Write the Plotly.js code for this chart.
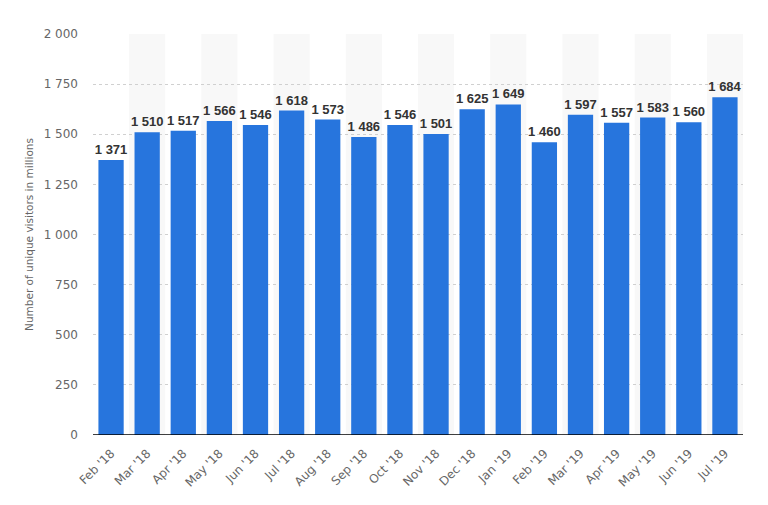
<!DOCTYPE html>
<html><head><meta charset="utf-8">
<script src="https://cdn.plot.ly/plotly-3.0.1.min.js"></script>
<style>html,body{margin:0;padding:0;background:#fff}#c{width:768px;height:505px}</style>
</head><body><div id="c"></div>
<script>
const months = ["Feb '18","Mar '18","Apr '18","May '18","Jun '18","Jul '18","Aug '18","Sep '18","Oct '18","Nov '18","Dec '18","Jan '19","Feb '19","Mar '19","Apr '19","May '19","Jun '19","Jul '19"];
const visitors = [1371,1510,1517,1566,1546,1618,1573,1486,1546,1501,1625,1649,1460,1597,1557,1583,1560,1684];
const yTicks = [0,250,500,750,1000,1250,1500,1750,2000];

const shapes = [];
months.forEach((m,i)=>{
  if(i%2===1){
    shapes.push({type:'rect',xref:'x',yref:'y',x0:i-0.5,x1:i+0.5,y0:0,y1:2000,fillcolor:'#f8f8f8',line:{width:0},layer:'below'});
  }
});
shapes.push({type:'line',xref:'paper',yref:'y',x0:0,x1:1,y0:0,y1:0,line:{color:'#000',width:1.5},layer:'above'});

const trace = {
  type:'bar', x: months.map((_,i)=>i), y: visitors,
  marker:{color:'#2775dd'},
  texttemplate:'<b>%{y:,d}</b>', textposition:'outside', cliponaxis:false, constraintext:'none',
  textfont:{family:'Liberation Sans, Arial, sans-serif', size:13, color:'#333'},
  hoverinfo:'skip'
};
const layout = {
  width:768, height:505,
  margin:{l:93,r:25,t:34,b:70},
  separators:', ',
  paper_bgcolor:'#fff', plot_bgcolor:'rgba(0,0,0,0)',
  bargap:0.3,
  showlegend:false,
  font:{family:'DejaVu Sans, sans-serif', color:'#666', size:11},
  xaxis:{
    tickmode:'array', tickvals: months.map((_,i)=>i), ticktext: months,
    tickangle:-45, range:[-0.5,17.5], showgrid:false, zeroline:false,
    ticks:'', tickfont:{size:12,color:'#666'}, showline:false, ticklabelstandoff:8
  },
  yaxis:{
    range:[0,2000], tickvals:yTicks, tickformat:',d',
    showgrid:true, gridcolor:'#d0d0d0', griddash:'dot', gridwidth:1,
    zeroline:false, ticks:'', ticklen:0, ticklabelstandoff:14,
    tickfont:{size:12,color:'#666'},
    title:{text:'Number of unique visitors in millions', font:{size:10.5,color:'#666'}, standoff:7}
  },
  shapes: shapes
};
Plotly.newPlot('c',[trace],layout,{displayModeBar:false,staticPlot:true});
</script></body></html>
